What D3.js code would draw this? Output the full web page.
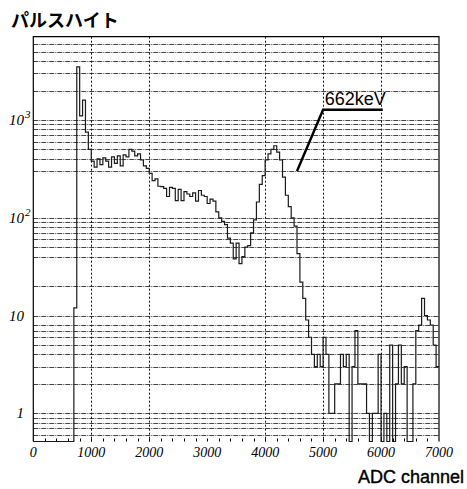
<!DOCTYPE html>
<html>
<head>
<meta charset="utf-8">
<script src="https://cdn.jsdelivr.net/npm/d3@7/dist/d3.min.js"></script>
<style>
  html, body { margin: 0; padding: 0; background: #fff; }
  svg { display: block; }
</style>
</head>
<body>
<svg id="chart" width="467" height="489"></svg>
<script>
// ---------------- data ----------------
const binWidth = 50;            // ADC channels per bin, bins start at channel 0
const counts = [
  0,0,0,0,0,0,0,0,0,0,0,0,0,0,          // 0 - 650
  12, 3500, 1100, 1600, 750, 500,        // 700 - 950
  380, 330, 400, 350, 410, 380, 330, 420, 360, 430,   // 1000 - 1450
  340, 440, 420, 500, 480, 430, 450, 390, 340, 320,   // 1500 - 1950
  285, 240, 250, 210, 208, 200, 165, 205, 200, 150,   // 2000 - 2450
  195, 150, 185, 175, 165, 180, 148, 190, 170, 165,   // 2500 - 2950
  140, 155, 148, 115, 100, 92, 85, 62, 55, 38,        // 3000 - 3450
  55, 34, 40, 50, 52, 70, 95, 145, 220, 270,          // 3500 - 3950
  390, 450, 500, 545, 470, 390, 260, 170, 130, 100,   // 4000 - 4450
  82, 43, 22, 15, 9, 6, 4, 3, 4, 3,                   // 4500 - 4950
  6, 4, 1, 1, 2, 2, 4, 3, 4, 0,                       // 5000 - 5450
  3, 7, 2, 2, 2, 1, 0, 1, 1, 4,                       // 5500 - 5950
  0, 1, 0, 5, 0, 2, 5, 2, 3, 0,                       // 6000 - 6450
  0, 2, 7, 8, 15, 10, 9, 8, 5, 3                      // 6500 - 6950
];
const xTicks = [0, 1000, 2000, 3000, 4000, 5000, 6000, 7000];
const xGrid = [1000, 2000, 4000, 5000, 6000];
const xMinor = d3.range(200, 7000, 200);
const yGrid = [0.6,0.7,0.8,0.9,1,2,3,4,5,6,7,8,10,20,40,50,60,70,80,90,
               100,300,400,500,600,700,800,900,1000,2000,3000,4000,5000,6000];
const yLabels = [
  {v: 1000, base: "10", exp: "3"},
  {v: 100,  base: "10", exp: "2"},
  {v: 10,   base: "10", exp: ""},
  {v: 1,    base: "1",  exp: ""}
];
const title = "パルスハイト";
const xTitle = "ADC channel";
const annotation = {label: "662keV", path: [[4550, 300], [5000, 1270], [6030, 1270]], at: [5030, 1420]};

// ---------------- layout ----------------
const L = 33.3, R = 439, T = 36.7, B = 441.5;
const svg = d3.select("#chart");
const x = d3.scaleLinear().domain([0, 7000]).range([L, R]);
const y = d3.scaleLog().domain([0.515, 7110]).range([B, T]).clamp(true);
const yv = v => y(v <= 0 ? 0.515 : v);

// horizontal grid (dash-dot)
svg.append("g").selectAll("line").data(yGrid).join("line")
  .attr("x1", L).attr("x2", R)
  .attr("y1", d => Math.round(y(d)) + 0.5).attr("y2", d => Math.round(y(d)) + 0.5)
  .attr("stroke", "#444").attr("stroke-width", 1)
  .attr("stroke-dasharray", "5,1,1,1");

// vertical grid (dotted)
svg.append("g").selectAll("line").data(xGrid).join("line")
  .attr("x1", d => Math.round(x(d)) + 0.5).attr("x2", d => Math.round(x(d)) + 0.5)
  .attr("y1", T).attr("y2", B)
  .attr("stroke", "#111").attr("stroke-width", 1)
  .attr("stroke-dasharray", "2,2");

// minor ticks at the bottom
svg.append("g").selectAll("line").data(xMinor).join("line")
  .attr("x1", d => Math.round(x(d)) + 0.5).attr("x2", d => Math.round(x(d)) + 0.5)
  .attr("y1", B - 3).attr("y2", B)
  .attr("stroke", "#000").attr("stroke-width", 1);

// histogram (step)
const pts = counts.map((c, i) => [i * binWidth, c]);
pts.push([counts.length * binWidth, counts[counts.length - 1]]);
const line = d3.line().x(d => x(d[0])).y(d => yv(d[1])).curve(d3.curveStepAfter);
svg.append("path").datum(pts)
  .attr("d", line)
  .attr("fill", "none").attr("stroke", "#1a1a1a").attr("stroke-width", 1.2);

// frame: left, top, right
svg.append("path")
  .attr("d", `M${L},${B}V${T}H${R}V${B}`)
  .attr("fill", "none").attr("stroke", "#000").attr("stroke-width", 1.2);

// x tick labels
svg.append("g").selectAll("text").data(xTicks).join("text")
  .attr("x", d => x(d)).attr("y", 457)
  .attr("text-anchor", "middle")
  .attr("font-family", "'Liberation Serif', 'DejaVu Serif', serif")
  .attr("font-style", "italic").attr("font-size", 14)
  .text(d => d);

// y labels
const yl = svg.append("g").selectAll("text").data(yLabels).join("text")
  .attr("x", d => d.exp ? 9 : 24).attr("y", d => y(d.v) + 5)
  .attr("text-anchor", d => d.exp ? "start" : "end")
  .attr("font-family", "'Liberation Serif', 'DejaVu Serif', serif")
  .attr("font-style", "italic").attr("font-size", 15);
yl.append("tspan").text(d => d.base);
yl.filter(d => d.exp).append("tspan")
  .attr("dx", 1).attr("dy", -7).attr("font-size", 11).text(d => d.exp);

// title
svg.append("text").attr("x", 11).attr("y", 27)
  .attr("font-family", "'Noto Sans CJK JP', sans-serif")
  .attr("font-weight", "bold").attr("font-size", 18)
  .text(title);

// x axis title
svg.append("text").attr("x", 464).attr("y", 483)
  .attr("text-anchor", "end")
  .attr("font-family", "'Liberation Sans', Arial, sans-serif")
  .attr("font-size", 18)
  .attr("stroke", "#000").attr("stroke-width", 0.4)
  .text(xTitle);

// annotation
svg.append("path").datum(annotation.path)
  .attr("d", d3.line().x(d => x(d[0])).y(d => y(d[1])))
  .attr("fill", "none").attr("stroke", "#000").attr("stroke-width", 2.5);
svg.append("text")
  .attr("x", x(annotation.at[0])).attr("y", y(annotation.at[1]))
  .attr("font-family", "'Liberation Sans', Arial, sans-serif")
  .attr("font-size", 18)
  .text(annotation.label);
</script>
</body>
</html>
